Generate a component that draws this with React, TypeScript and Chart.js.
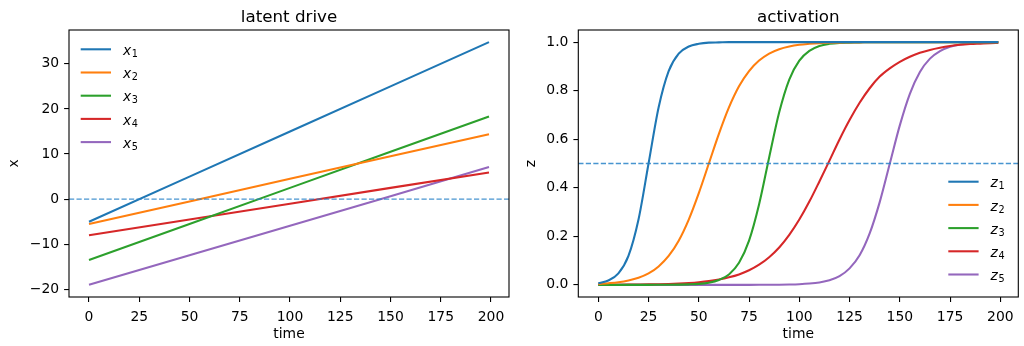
import React, { useEffect, useRef } from "react";
import { Chart, registerables } from "chart.js";

Chart.register(...registerables);

// ---------- data ----------
const colors = ["#1f77b4", "#ff7f0e", "#2ca02c", "#d62728", "#9467bd"];
const seriesIndex = ["1", "2", "3", "4", "5"];

// latent drive (straight lines)
const timeLatent = [0, 50, 100, 150, 199];
const x1 = [-5.0, 5.0, 15.0, 25.0, 34.8];
const x2 = [-5.5, -0.5, 4.5, 9.5, 14.4];
const x3 = [-13.5, -5.5, 2.5, 10.5, 18.3];
const x4 = [-8.0, -4.5, -1.0, 2.5, 5.9];
const x5 = [-19.0, -12.45, -5.9, 0.65, 7.1];
const latentSeries = [x1, x2, x3, x4, x5];

// activation
const timeAct = [0, 5, 10, 15, 20, 25, 30, 35, 40, 45, 50, 55, 60, 65, 70, 75, 80, 85, 90, 95, 100,
  105, 110, 115, 120, 125, 130, 135, 140, 145, 150, 155, 160, 165, 170, 175, 180, 185, 190, 195, 199];
const z1 = [0.007, 0.018, 0.047, 0.119, 0.269, 0.5, 0.731, 0.881, 0.953, 0.982, 0.993, 0.998, 0.999,
  1, 1, 1, 1, 1, 1, 1, 1, 1, 1, 1, 1, 1, 1, 1, 1, 1, 1, 1, 1, 1, 1, 1, 1, 1, 1, 1, 1];
const z2 = [0.004, 0.007, 0.011, 0.018, 0.029, 0.047, 0.076, 0.119, 0.182, 0.269, 0.378, 0.5, 0.622,
  0.731, 0.818, 0.881, 0.924, 0.953, 0.971, 0.982, 0.989, 0.993, 0.996, 0.998, 0.998, 0.999, 0.999,
  1, 1, 1, 1, 1, 1, 1, 1, 1, 1, 1, 1, 1, 1];
const z3 = [0, 0, 0, 0, 0, 0, 0.0002, 0.0004, 0.001, 0.002, 0.004, 0.009, 0.02, 0.043, 0.091, 0.182,
  0.332, 0.525, 0.711, 0.846, 0.924, 0.964, 0.984, 0.993, 0.997, 0.998, 0.999,
  1, 1, 1, 1, 1, 1, 1, 1, 1, 1, 1, 1, 1, 1];
const z4 = [0.0003, 0.0005, 0.0007, 0.001, 0.0014, 0.0019, 0.0027, 0.0039, 0.0055, 0.0078, 0.011,
  0.0155, 0.022, 0.031, 0.043, 0.06, 0.083, 0.114, 0.154, 0.206, 0.269, 0.343, 0.426, 0.512, 0.599,
  0.679, 0.75, 0.81, 0.858, 0.892, 0.919, 0.94, 0.956, 0.968, 0.977, 0.984, 0.989, 0.992, 0.994, 0.996, 0.997];
const z5 = [0, 0, 0, 0, 0, 0, 0, 0, 0, 0, 0, 0, 0, 0, 0, 0.0001, 0.0002, 0.0004, 0.0007, 0.0014,
  0.0027, 0.0053, 0.01, 0.019, 0.036, 0.068, 0.122, 0.212, 0.341, 0.499, 0.657, 0.787, 0.877, 0.932,
  0.963, 0.981, 0.99, 0.995, 0.997, 0.9986, 0.9992];
const actSeries = [z1, z2, z3, z4, z5];

// ticks
const timeTicks = [0, 25, 50, 75, 100, 125, 150, 175, 200];
const xTicks = [-20, -10, 0, 10, 20, 30];
const zTicks = [0, 0.2, 0.4, 0.6, 0.8, 1.0];

const latentRef = 0;
const actRef = 0.5;

// ---------- helpers ----------
const FONT = '"DejaVu Sans", sans-serif';
const TICK_SIZE = 13.9;

function limits(values: number[]) {
  const mn = Math.min(...values);
  const mx = Math.max(...values);
  const pad = (mx - mn) * 0.05;
  return [mn - pad, mx + pad];
}

type PanelSpec = {
  title: string;
  letter: string;
  yLabel: string;
  yLabelBaseline: number;
  times: number[];
  series: number[][];
  yTicks: number[];
  yFormat: (v: number) => string;
  ref: number;
  yAxisWidth: number;
  rightPad: number;
  legendLineX: (ca: any) => number;
  legendRowY: (ca: any) => number;
  smooth: boolean;
};

function makeConfig(spec: PanelSpec): any {
  const [tMin, tMax] = limits(spec.times);
  const [yMin, yMax] = limits(spec.series.flat());

  const decor = {
    id: "decor",
    afterDatasetsDraw(chart: any) {
      const { ctx, chartArea: ca, scales } = chart;
      // reference dashed line
      const yy = scales.y.getPixelForValue(spec.ref);
      ctx.save();
      ctx.beginPath();
      ctx.rect(ca.left, ca.top, ca.right - ca.left, ca.bottom - ca.top);
      ctx.clip();
      ctx.strokeStyle = "rgba(40,130,200,0.85)";
      ctx.lineWidth = 1.4;
      ctx.setLineDash([5.2, 2.3]);
      ctx.beginPath();
      ctx.moveTo(ca.left, yy);
      ctx.lineTo(ca.right, yy);
      ctx.stroke();
      ctx.restore();

      // frame
      ctx.save();
      ctx.strokeStyle = "#000";
      ctx.lineWidth = 1.1;
      ctx.strokeRect(ca.left, ca.top, ca.right - ca.left, ca.bottom - ca.top);
      ctx.restore();

      // title
      ctx.save();
      ctx.fillStyle = "#000";
      ctx.font = `16.7px ${FONT}`;
      ctx.textAlign = "center";
      ctx.textBaseline = "alphabetic";
      ctx.fillText(spec.title, (ca.left + ca.right) / 2, 21.5);

      // x label
      ctx.font = `${TICK_SIZE}px ${FONT}`;
      ctx.fillText("time", (ca.left + ca.right) / 2, 338);

      // y label
      ctx.translate(spec.yLabelBaseline, (ca.top + ca.bottom) / 2);
      ctx.rotate(-Math.PI / 2);
      ctx.fillText(spec.yLabel, 0, 0);
      ctx.restore();

      // legend
      ctx.save();
      const lx = spec.legendLineX(ca);
      const ly = spec.legendRowY(ca);
      spec.series.forEach((_, i) => {
        const rowY = ly + i * 23.2;
        ctx.strokeStyle = colors[i];
        ctx.lineWidth = 2.08;
        ctx.beginPath();
        ctx.moveTo(lx, rowY);
        ctx.lineTo(lx + 30.3, rowY);
        ctx.stroke();
        ctx.fillStyle = "#000";
        ctx.textAlign = "left";
        ctx.textBaseline = "alphabetic";
        ctx.font = `italic ${TICK_SIZE}px ${FONT}`;
        const tx = lx + 42.3;
        ctx.fillText(spec.letter, tx, rowY + 5.7);
        const w = ctx.measureText(spec.letter).width;
        ctx.font = `9.7px ${FONT}`;
        ctx.fillText(seriesIndex[i], tx + w + 0.5, rowY + 7.6);
      });
      ctx.restore();
    },
  };

  const tickStyle = {
    font: { family: FONT, size: TICK_SIZE },
    color: "#000",
    autoSkip: false,
    maxRotation: 0,
    minRotation: 0,
  };
  const gridStyle = {
    display: true,
    drawOnChartArea: false,
    drawTicks: true,
    tickLength: 4.9,
    color: "#000",
    lineWidth: 1.1,
  };

  return {
    type: "line",
    data: {
      datasets: spec.series.map((vals, i) => ({
        label: spec.letter + seriesIndex[i],
        data: spec.times.map((t, j) => ({ x: t, y: vals[j] })),
        borderColor: colors[i],
        backgroundColor: colors[i],
        borderWidth: 2.08,
        pointRadius: 0,
        fill: false,
        cubicInterpolationMode: spec.smooth ? "monotone" : "default",
        tension: 0,
      })),
    },
    options: {
      animation: false,
      responsive: false,
      maintainAspectRatio: false,
      events: [],
      layout: { padding: { left: 0, right: spec.rightPad, top: 30, bottom: 0 } },
      plugins: {
        legend: { display: false },
        title: { display: false },
        tooltip: { enabled: false },
      },
      scales: {
        x: {
          type: "linear",
          min: tMin,
          max: tMax,
          afterBuildTicks: (s: any) => {
            s.ticks = timeTicks.map((v) => ({ value: v }));
          },
          afterFit: (s: any) => {
            s.height = 49;
          },
          ticks: { ...tickStyle, padding: 7, callback: (v: number) => String(v) },
          grid: gridStyle,
          border: { display: false },
        },
        y: {
          type: "linear",
          min: yMin,
          max: yMax,
          afterBuildTicks: (s: any) => {
            s.ticks = spec.yTicks.map((v) => ({ value: v }));
          },
          afterFit: (s: any) => {
            s.width = spec.yAxisWidth;
          },
          ticks: { ...tickStyle, padding: 5, callback: (v: number) => spec.yFormat(v) },
          grid: gridStyle,
          border: { display: false },
        },
      },
    },
    plugins: [decor],
  };
}

const leftSpec: PanelSpec = {
  title: "latent drive",
  letter: "x",
  yLabel: "x",
  yLabelBaseline: 18.3,
  times: timeLatent,
  series: latentSeries,
  yTicks: xTicks,
  yFormat: (v) => String(v).replace("-", "\u2212"),
  ref: latentRef,
  yAxisWidth: 69,
  rightPad: 3,
  legendLineX: (ca) => ca.left + 11.7,
  legendRowY: (ca) => ca.top + 19.3,
  smooth: false,
};

const rightSpec: PanelSpec = {
  title: "activation",
  letter: "z",
  yLabel: "z",
  yLabelBaseline: 23,
  times: timeAct,
  series: actSeries,
  yTicks: zTicks,
  yFormat: (v) => v.toFixed(1),
  ref: actRef,
  yAxisWidth: 66.3,
  rightPad: 5.7,
  legendLineX: (ca) => ca.right - 70,
  legendRowY: (ca) => ca.top + 151.7,
  smooth: true,
};

function Panel({ spec, left }: { spec: PanelSpec; left: number }) {
  const ref = useRef<HTMLCanvasElement | null>(null);
  useEffect(() => {
    if (!ref.current) return;
    const chart = new Chart(ref.current, makeConfig(spec));
    return () => chart.destroy();
  }, [spec]);
  return (
    <canvas
      ref={ref}
      width={512}
      height={346}
      style={{ position: "absolute", left, top: 0, width: 512, height: 346 }}
    />
  );
}

export default function App() {
  return (
    <div
      style={{
        position: "absolute",
        left: 0,
        top: 0,
        width: 1024,
        height: 346,
        background: "#fff",
        overflow: "hidden",
      }}
    >
      <Panel spec={leftSpec} left={0} />
      <Panel spec={rightSpec} left={512} />
    </div>
  );
}
